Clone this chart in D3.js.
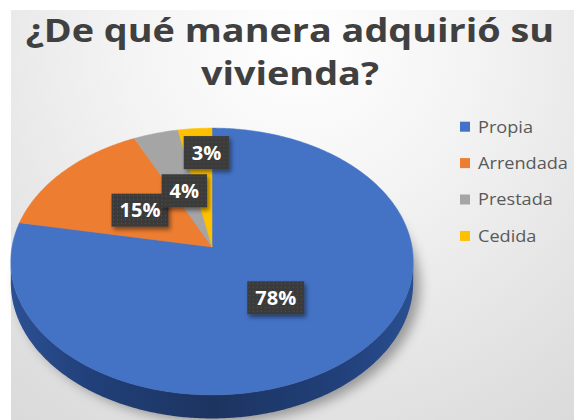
<!DOCTYPE html>
<html><head><meta charset="utf-8">
<script src="https://cdn.jsdelivr.net/npm/d3@7"></script>
<style>html,body{margin:0;padding:0;background:#fff;overflow:hidden}svg{display:block}</style>
</head><body>
<script>
const categories = ["Propia", "Arrendada", "Prestada", "Cedida"];
const values = [78, 15, 4, 3];
const valueLabels = ["78%", "15%", "4%", "3%"];
const colors = ["#4472c4", "#ed7d31", "#a5a5a5", "#ffc000"];
const titleLines = ["¿De qué manera adquirió su", "vivienda?"];

const W = 574, H = 420;
const svg = d3.select("body").append("svg").attr("width", W).attr("height", H);
const defs = svg.append("defs");

// background panel gradient
const bg = defs.append("radialGradient").attr("id", "bg").attr("gradientUnits", "userSpaceOnUse")
  .attr("cx", 300).attr("cy", 40).attr("r", 560);
bg.append("stop").attr("offset", 0).attr("stop-color", "#ffffff");
bg.append("stop").attr("offset", 0.3).attr("stop-color", "#f4f4f4");
bg.append("stop").attr("offset", 0.75).attr("stop-color", "#dedede");
bg.append("stop").attr("offset", 1).attr("stop-color", "#d4d4d4");
svg.append("rect").attr("x", 11).attr("y", 10).attr("width", W - 11).attr("height", H - 10).attr("fill", "url(#bg)");

// projection of 3D tilted disk (perspective homography)
const P = {cx: 212, cy: 247, a: 200, d: 105, g: -0.1086, depth: 21};
function proj(phi, r, dz) {
  const u = r * Math.sin(phi), v = -r * Math.cos(phi);
  const den = 1 + P.g * v;
  return [P.cx + P.a * u / den, (P.cy + P.d * v + (dz || 0)) / den];
}
function rim(a0, a1, dz) {
  const n = Math.max(2, Math.ceil((a1 - a0) / 0.01));
  return d3.range(n + 1).map(i => proj(a0 + (a1 - a0) * i / n, 1, dz));
}
const line = d3.line();

const pie = d3.pie().sort(null).value(d => d)(values);

// shadow
const sh = defs.append("filter").attr("id", "pshadow").attr("x", "-20%").attr("y", "-20%").attr("width", "140%").attr("height", "140%");
sh.append("feGaussianBlur").attr("stdDeviation", 6);
svg.append("path")
  .attr("d", line(rim(0, 2 * Math.PI, P.depth)) + "Z")
  .attr("transform", "translate(7,4)")
  .attr("fill", "rgba(0,0,0,0.34)").attr("filter", "url(#pshadow)");

// side wall
const sideGrad = defs.append("linearGradient").attr("id", "side").attr("gradientUnits", "userSpaceOnUse")
  .attr("x1", 12).attr("y1", 0).attr("x2", 415).attr("y2", 0);
[[0, "#2b5093"], [0.2, "#213f79"], [0.5, "#1c3460"], [0.8, "#213f79"], [1, "#2a4f91"]]
  .forEach(s => sideGrad.append("stop").attr("offset", s[0]).attr("stop-color", s[1]));
const a0 = Math.PI - Math.acos(-P.g), a1 = Math.PI + Math.acos(-P.g);
pie.forEach((p, i) => {
  const s = Math.max(p.startAngle, a0), e = Math.min(p.endAngle, a1);
  if (e > s) {
    const top = rim(s, e, 0), bot = rim(s, e, P.depth).reverse();
    svg.append("path").attr("d", line(top.concat(bot)) + "Z")
      .attr("fill", i === 0 ? "url(#side)" : d3.color(colors[i]).darker(1.2));
  }
});

// top face
pie.forEach((p, i) => {
  const pts = [proj(0, 0)].concat(rim(p.startAngle, p.endAngle, 0));
  svg.append("path").attr("d", line(pts) + "Z").attr("fill", colors[i])
    .attr("stroke", colors[i]).attr("stroke-width", 0.5);
});

// data labels
const lf = defs.append("filter").attr("id", "lshadow").attr("x", "-30%").attr("y", "-30%").attr("width", "170%").attr("height", "170%");
lf.append("feDropShadow").attr("dx", 2).attr("dy", 3).attr("stdDeviation", 2).attr("flood-color", "#000").attr("flood-opacity", 0.45);
const pat = defs.append("pattern").attr("id", "dots").attr("patternUnits", "userSpaceOnUse").attr("width", 4).attr("height", 4);
pat.append("rect").attr("width", 4).attr("height", 4).attr("fill", "#3a3a3a");
pat.append("rect").attr("x", 1).attr("y", 1).attr("width", 1).attr("height", 1).attr("fill", "#56564c");

const labelR = [0.48, 0.47, 0.47, 0.78];
const labelDx = [0, 0, 0, 8];
pie.forEach((p, i) => {
  const mid = (p.startAngle + p.endAngle) / 2;
  const [x, y] = proj(mid, labelR[i]);
  const g = svg.append("g").attr("transform", `translate(${x + labelDx[i]},${y})`);
  const rect = g.append("rect").attr("fill", "url(#dots)").attr("filter", "url(#lshadow)");
  const t = g.append("text").attr("text-anchor", "middle").attr("dy", "0.36em")
    .style("font-family", "'Open Sans', sans-serif").style("font-weight", 700).style("font-size", "20px")
    .attr("fill", "#ffffff").text(valueLabels[i]);
  const w = t.node().getComputedTextLength();
  rect.attr("x", -w / 2 - 8).attr("y", -16.5).attr("width", w + 16).attr("height", 33);
});

// title
titleLines.forEach((s, i) => {
  const t = svg.append("text").attr("x", 0).attr("y", 0)
    .style("font-family", "'Open Sans', sans-serif").style("font-weight", 700).style("font-size", "31.5px")
    .attr("fill", "#404040").text(s);
  const w = t.node().getComputedTextLength();
  const k = 1.2;
  t.attr("transform", `translate(${290 - w * k / 2},${41.5 + i * 43.5}) scale(${k},1)`);
});

// legend
const leg = svg.append("g");
categories.forEach((c, i) => {
  const y = 126.7 + i * 36.4;
  leg.append("rect").attr("x", 460).attr("y", y - 5).attr("width", 10).attr("height", 10).attr("fill", colors[i]);
  leg.append("text").attr("transform", `translate(478,${y}) scale(1.1,1)`).attr("dy", "0.36em")
    .style("font-family", "'Open Sans', sans-serif").style("font-size", "16.5px")
    .attr("fill", "#595959").text(c);
});
</script>
</body></html>
